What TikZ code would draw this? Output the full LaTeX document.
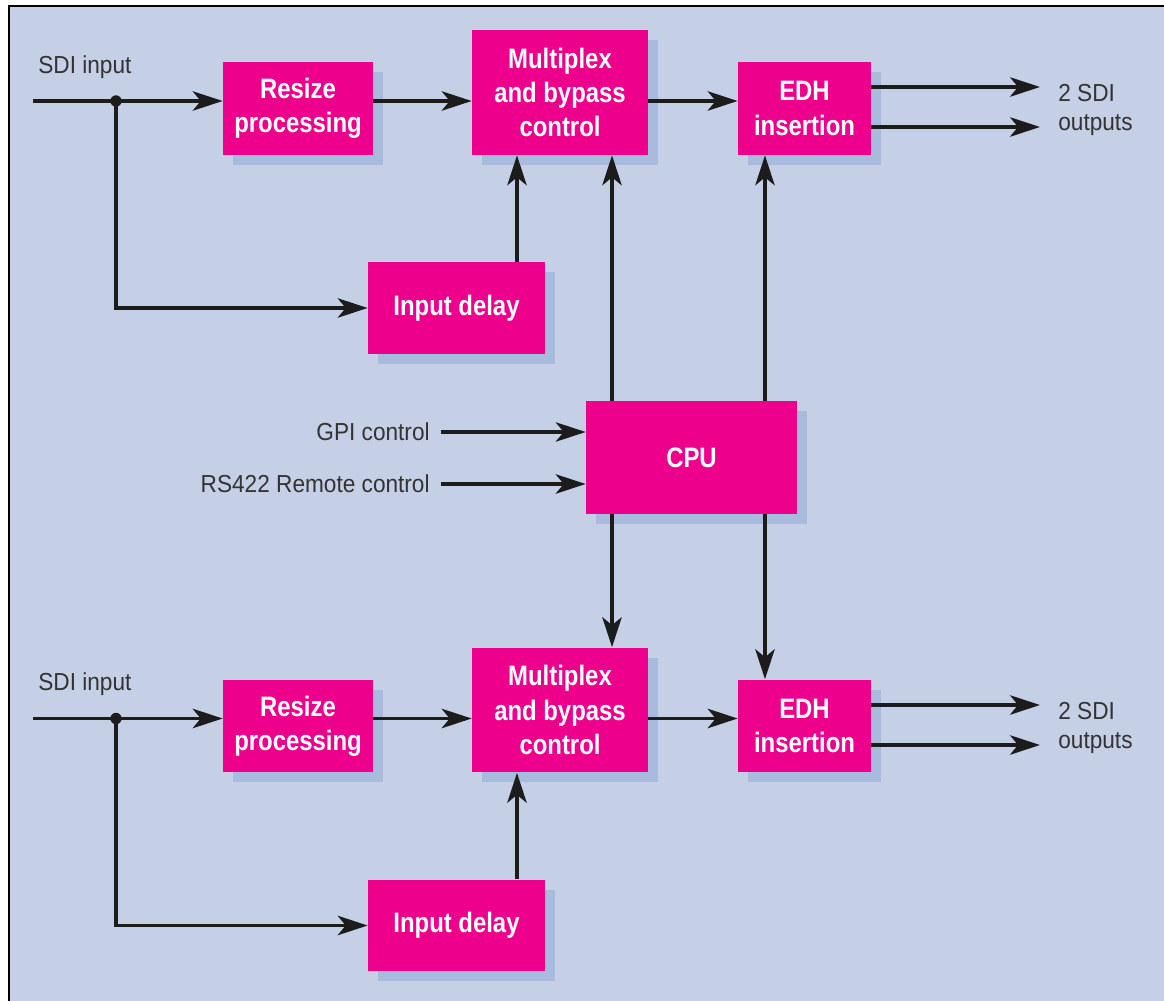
\documentclass[tikz,border=0pt]{standalone}
\usepackage{fontspec}
\setmainfont{Liberation Sans}
\newfontfamily\boxfont[FakeStretch=0.85]{Liberation Sans}
\newfontfamily\labfont[FakeStretch=0.92]{Liberation Sans}
\usetikzlibrary{arrows.meta,positioning,calc,shadows}
\definecolor{panel}{HTML}{C5CFE6}
\definecolor{magenta}{HTML}{EC008C}
\definecolor{shade}{HTML}{A9BBDC}
\definecolor{ink}{HTML}{1C1C1C}
\definecolor{labgray}{HTML}{333333}

\begin{document}
\begin{tikzpicture}[x=0.02cm, y=-0.02cm,
  block/.style={rectangle, fill=magenta, text=white, align=center,
    font=\boxfont\bfseries\fontsize{16}{19.5}\selectfont,
    drop shadow={shadow xshift=0.2cm, shadow yshift=-0.2cm, fill=shade, opacity=1}},
  lab/.style={text=labgray, font=\labfont\fontsize{14}{17}\selectfont, align=left, inner sep=0pt},
  arr/.style={draw=ink, line width=2.2pt, -{Stealth[length=17pt, width=11pt, inset=4.5pt]}},
  wire/.style={draw=ink, line width=2.2pt},
  dot/.style={circle, fill=ink, inner sep=0pt, minimum size=6.5pt}
]
  % frame
  \useasboundingbox (0,0) rectangle (1164,1001);
  \fill[panel] (9,6) rectangle (1164,1001);
  \draw[black, line width=1.5pt] (9,1001) -- (9,6) -- (1164,6);

  % top channel
  \node[block, minimum width=3cm, minimum height=1.86cm] (res1) at (298,108.5) {Resize\\processing};
  \node[block, minimum width=3.52cm, minimum height=2.5cm] (mux1) at (560,92.5) {Multiplex\\and bypass\\control};
  \node[block, minimum width=2.66cm, minimum height=1.86cm] (edh1) at (804.5,108.5) {EDH\\insertion};
  \node[block, minimum width=3.54cm, minimum height=1.84cm] (dly1) at (456.5,308) {Input delay};
  \node[lab, anchor=west] (sdi1) at (38,67) {SDI input};
  \coordinate (in1) at (33,101);
  \node[dot] (jt1) at (116,101) {};
  \coordinate (oa1) at (1040,87);
  \coordinate (ob1) at (1040,127);
  \node[lab, anchor=west] (out1) at (1058,110) {2 SDI\\outputs};

  % CPU
  \node[block, minimum width=4.22cm, minimum height=2.26cm] (cpu) at (691.5,457.5) {CPU};
  \node[lab, anchor=east] (gpi) at (430,432) {GPI control};
  \node[lab, anchor=east] (rs) at (430,484) {RS422 Remote control};

  % bottom channel
  \node[block, minimum width=3cm, minimum height=1.86cm] (res2) at (298,726) {Resize\\processing};
  \node[block, minimum width=3.52cm, minimum height=2.5cm] (mux2) at (560,710) {Multiplex\\and bypass\\control};
  \node[block, minimum width=2.66cm, minimum height=1.86cm] (edh2) at (804.5,726) {EDH\\insertion};
  \node[block, minimum width=3.54cm, minimum height=1.84cm] (dly2) at (456.5,925.5) {Input delay};
  \node[lab, anchor=west] (sdi2) at (38,684) {SDI input};
  \coordinate (in2) at (33,718.5);
  \node[dot] (jt2) at (116,718.5) {};
  \coordinate (oa2) at (1040,705);
  \coordinate (ob2) at (1040,745);
  \node[lab, anchor=west] (out2) at (1058,728) {2 SDI\\outputs};

  % connectors, top
  \draw[wire] (in1) -- (jt1.center);
  \draw[arr] (jt1.center) -- (jt1 -| res1.west);
  \draw[arr] (jt1.center) |- (dly1.west);
  \draw[arr] (res1.east |- jt1) -- (mux1.west |- jt1);
  \draw[arr] (mux1.east |- jt1) -- (edh1.west |- jt1);
  \draw[arr] (edh1.east |- oa1) -- (oa1);
  \draw[arr] (edh1.east |- ob1) -- (ob1);
  \draw[arr] ([xshift=1.21cm]dly1.north) -- ([xshift=1.21cm]dly1.north |- mux1.south);

  % connectors, CPU
  \draw[arr] ([xshift=-1.59cm]cpu.north) -- ([xshift=-1.59cm]cpu.north |- mux1.south);
  \draw[arr] ([xshift=1.47cm]cpu.north) -- ([xshift=1.47cm]cpu.north |- edh1.south);
  \draw[arr] ([xshift=-1.59cm]cpu.south) -- ([xshift=-1.59cm]cpu.south |- mux2.north);
  \draw[arr] ([xshift=1.47cm]cpu.south) -- ([xshift=1.47cm]cpu.south |- edh2.north);
  \draw[arr] ([xshift=6pt]gpi.east) -- (cpu.west |- gpi);
  \draw[arr] ([xshift=6pt]rs.east) -- (cpu.west |- rs);

  % connectors, bottom
  \draw[wire] (in2) -- (jt2.center);
  \draw[arr] (jt2.center) -- (jt2 -| res2.west);
  \draw[arr] (jt2.center) |- (dly2.west);
  \draw[arr] (res2.east |- jt2) -- (mux2.west |- jt2);
  \draw[arr] (mux2.east |- jt2) -- (edh2.west |- jt2);
  \draw[arr] (edh2.east |- oa2) -- (oa2);
  \draw[arr] (edh2.east |- ob2) -- (ob2);
  \draw[arr] ([xshift=1.21cm]dly2.north) -- ([xshift=1.21cm]dly2.north |- mux2.south);
\end{tikzpicture}
\end{document}
